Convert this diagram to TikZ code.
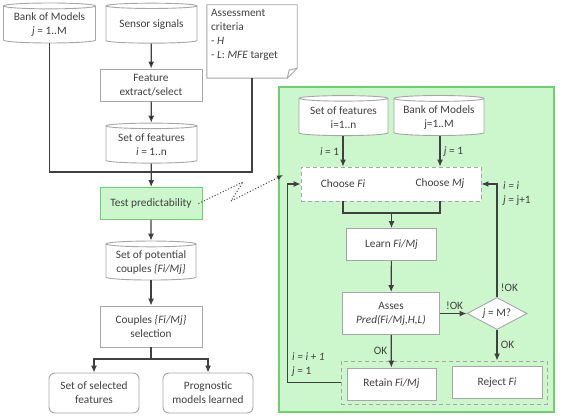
\documentclass[tikz,border=0pt]{standalone}
\usepackage{fontspec}
\setmainfont{Carlito}
\usetikzlibrary{arrows.meta,shapes.geometric,positioning}
\definecolor{txt}{HTML}{404040}
\definecolor{edgegray}{HTML}{A6A6A6}
\definecolor{panelfill}{HTML}{CCF7CC}
\definecolor{panelline}{HTML}{70CF70}
\tikzset{>={Latex[width=6pt,length=7pt]}}
\tikzset{box/.style={shape=rectangle, draw=edgegray, fill=white, line width=0.9pt,
    align=center, inner sep=2pt, minimum width=90pt, minimum height=32pt}}
\tikzset{outbox/.style={box, rounded corners=6pt, minimum height=40pt}}
\tikzset{base/.style={shape=cylinder, shape border rotate=90, aspect=0.08, draw=edgegray,
    fill=white, line width=0.9pt, align=center, inner sep=1pt,
    minimum width=90pt, minimum height=40pt}}
\tikzset{dashbox/.style={shape=rectangle, draw=edgegray, dashed, line width=0.9pt,
    dash pattern=on 4pt off 3pt}}
\tikzset{link/.style={draw=txt, line width=1.2pt}}

\begin{document}
\begin{tikzpicture}[x=1pt, y=-1pt, font=\fontsize{11.3}{14}\selectfont, text=txt]
    \useasboundingbox (0,0) rectangle (564,417);

    % right panel
    \fill[panelfill] (279,87) rectangle (554,412);
    \draw[panelline, line width=1.5pt] (279,87) rectangle (554,412);

    % left column
    \node[base, minimum width=92pt] (bankL) at (49.5,25) {Bank of Models\\\textit{j} = 1..M};
    \node[base, minimum width=91pt] (sensor) at (151.5,25) {Sensor signals};
    \node[shape=rectangle, minimum width=90pt, minimum height=73pt] (crit) at (252,41.5) {};
    \draw[draw=edgegray, fill=white, line width=0.9pt] (crit.north west) -- (crit.north east)
    -- ([yshift=10pt]crit.south east) -- ([xshift=-10pt]crit.south east)
    -- (crit.south west) -- cycle;
    \draw[draw=edgegray, line width=0.9pt] ([xshift=-10pt]crit.south east)
    -- ([xshift=-8pt, yshift=8pt]crit.south east) -- ([yshift=10pt]crit.south east);
    \node[anchor=north west, align=left, inner sep=0pt] (critText) at (211,9)
    {Assessment\\criteria\\- \textit{H}\\- \textit{L}: \textit{MFE} target};

    \node[box, minimum width=102pt] (feat) at (151,85) {Feature\\extract/select};
    \node[base, minimum width=91pt] (setF) at (151.5,145) {Set of features\\\textit{i} = 1..n};
    \node[box, minimum width=102pt, fill=panelfill, draw=panelline] (test) at (151,203.5)
    {Test predictability};
    \node[base, minimum width=90pt, minimum height=39pt] (pot) at (151,262.5)
    {Set of potential\\couples \textit{\{Fi/Mj\}}};
    \node[box, minimum width=102pt, minimum height=41pt] (coup) at (151,326.5)
    {Couples \textit{\{Fi/Mj\}}\\selection};
    \node[outbox] (selF) at (94,393) {Set of selected\\features};
    \node[outbox] (prog) at (208,393) {Prognostic\\models learned};

    \coordinate (join) at (151,172);
    \coordinate (split) at (151,359);

    \path[link] (bankL) |- (join) -| (crit);
    \path[link] (sensor) edge[->] (feat);
    \path[link] (feat) edge[->] (setF);
    \path[link, ->] (setF) -- (test);
    \path[link, ->] (test) -- (pot);
    \path[link, ->] (pot) -- (coup);
    \path[link] (coup) -- (split);
    \path[link, ->] (split) -| (selF);
    \path[link, ->] (split) -| (prog);

    % right panel content
    \node[base, minimum width=89pt] (setF2) at (343.5,117.5) {Set of features\\i=1..n};
    \node[base, minimum width=90pt] (bankR) at (439,117.5) {Bank of Models\\j=1..M};
    \node[dashbox, fill=white, minimum width=180pt, minimum height=34pt] (choose) at (391,184) {};
    \node (chooseF) at (343,184) {Choose \textit{Fi}};
    \node (chooseM) at (440,184) {Choose \textit{Mj}};
    \node[box] (learn) at (391.5,244.5) {Learn \textit{Fi/Mj}};
    \node[box, minimum width=97pt, minimum height=42pt] (asses) at (391,313.5)
    {Asses\\\textit{Pred(Fi/Mj,H,L)}};
    \node[shape=diamond, draw=edgegray, fill=white, line width=0.9pt, aspect=1.9,
    inner sep=0pt, minimum width=60pt, minimum height=32pt] (dec) at (497,313.5)
    {\textit{j} = M?};
    \node[dashbox, minimum width=206pt, minimum height=43pt] (keep) at (444,382.5) {};
    \node[box, minimum width=89pt] (retain) at (391.5,384) {Retain \textit{Fi/Mj}};
    \node[box] (reject) at (497,382.5) {Reject \textit{Fi}};

    \coordinate (mid) at (391.5,213);

    \path[link, ->] (setF2.south -| chooseF) -- node[left] {\textit{i} = 1} (choose.north -| chooseF);
    \path[link, ->] (bankR.south -| chooseM) -- node[right] {\textit{j} = 1} (choose.north -| chooseM);
    \path[link] (choose.south -| chooseF) |- (mid) -| (choose.south -| chooseM);
    \path[link, ->] (mid) -- (learn);
    \path[link, ->] (learn) -- (asses);
    \path[link, ->] (asses) -- node[above, pos=0.55] {!OK} (dec);
    \path[link, ->] (dec) |- node[right, pos=0.04] {!OK} (choose);
    \path[link, ->] (dec) -- node[right] {OK} (dec |- keep.north);
    \path[link, ->] (asses) -- node[left] {OK} (retain);
    \path[link, ->] (keep.west) -- ++(-53,0) |- (choose.west);

    \node[anchor=west, align=left, inner sep=0pt] (loopR) at (503,194)
    {\textit{i = i}\\\textit{j} = j+1};
    \node[anchor=west, align=left, inner sep=0pt] (loopL) at (292,365)
    {\textit{i = i + 1}\\\textit{j} = 1};

    % link to the zoomed view
    \coordinate (zigA) at (243,182);
    \coordinate (zigB) at (231,201);
    \coordinate (zigC) at (283,175);
    \draw[txt, dotted, line width=1pt, ->, >={Latex[width=5pt,length=6pt]}]
    ([xshift=-4pt]test.east) -- (zigA) -- (zigB) -- (zigC);
  \end{tikzpicture}
\end{document}
